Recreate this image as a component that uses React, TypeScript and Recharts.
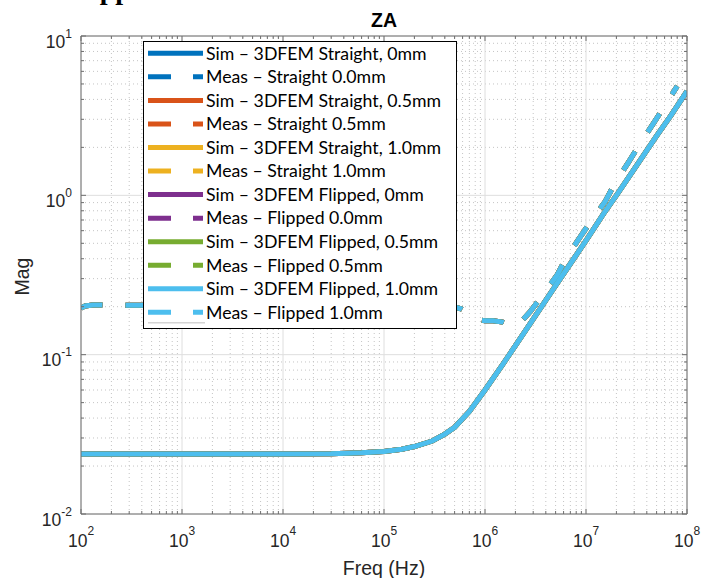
import React from 'react';
import { LineChart, Line, XAxis, YAxis, ReferenceLine, Legend } from 'recharts';

// ---- data ----
const freqSim = [1e2, 1e3, 1e4, 3e4, 6e4, 1e5, 1.5e5, 2e5, 3e5, 4e5, 5e5, 7e5, 1e6, 1.5e6, 2e6, 3e6, 5e6, 7e6, 1e7, 1.5e7, 2e7, 3e7, 5e7, 7e7, 1e8];
const magSim = [0.0238, 0.0238, 0.0238, 0.0239, 0.0242, 0.0247, 0.0255, 0.0265, 0.0287, 0.0317, 0.035, 0.044, 0.06, 0.087, 0.114, 0.167, 0.271, 0.372, 0.52, 0.77, 1.0, 1.46, 2.36, 3.2, 4.5];

const freqMeas = [1e2, 1.1e2, 1.3e2, 1.6e2, 2e2, 3e2, 5e2, 1e3, 1e4, 1e5, 3e5, 5e5, 5.9e5, 7e5, 8.3e5, 1e6, 1.2e6, 1.5e6, 1.8e6, 2.1e6, 2.8e6, 3.75e6, 5.2e6, 6.4e6, 8.7e6, 1.15e7, 1.55e7, 1.96e7, 2.63e7, 3.4e7, 4.6e7, 6e7, 8e7];
const magMeas = [0.196, 0.202, 0.205, 0.205, 0.204, 0.204, 0.204, 0.204, 0.204, 0.204, 0.203, 0.199, 0.193, 0.18, 0.167, 0.163, 0.163, 0.16, 0.153, 0.152, 0.186, 0.238, 0.318, 0.407, 0.544, 0.706, 0.916, 1.21, 1.61, 2.09, 2.8, 3.63, 4.85];

const seriesNames = [
  'Sim – 3DFEM Straight, 0mm',
  'Meas – Straight 0.0mm',
  'Sim – 3DFEM Straight, 0.5mm',
  'Meas – Straight 0.5mm',
  'Sim – 3DFEM Straight, 1.0mm',
  'Meas – Straight 1.0mm',
  'Sim – 3DFEM Flipped, 0mm',
  'Meas – Flipped 0.0mm',
  'Sim – 3DFEM Flipped, 0.5mm',
  'Meas – Flipped 0.5mm',
  'Sim – 3DFEM Flipped, 1.0mm',
  'Meas – Flipped 1.0mm',
];
const seriesKinds = ['sim', 'meas', 'sim', 'meas', 'sim', 'meas', 'sim', 'meas', 'sim', 'meas', 'sim', 'meas'];
const seriesColors = ['#0072BD', '#0072BD', '#D95319', '#D95319', '#EDB120', '#EDB120', '#7E2F8E', '#7E2F8E', '#77AC30', '#77AC30', '#4DBEEE', '#4DBEEE'];

const xMajorTicks = [1e2, 1e3, 1e4, 1e5, 1e6, 1e7, 1e8];
const yMajorTicks = [1e-2, 1e-1, 1e0, 1e1];
const minorMultipliers = [2, 3, 4, 5, 6, 7, 8, 9];

// ---- derived tables ----
const simData = freqSim.map((f, i) => ({ f, mag: magSim[i] }));
const measData = freqMeas.map((f, i) => ({ f, mag: magMeas[i] }));

function minorsOf(majors: number[]) {
  const out: number[] = [];
  for (let i = 0; i < majors.length - 1; i++) {
    for (const m of minorMultipliers) out.push(majors[i] * m);
  }
  return out;
}
const xMinorTicks = minorsOf(xMajorTicks);
const yMinorTicks = minorsOf(yMajorTicks);
const xAllTicks = [...xMajorTicks, ...xMinorTicks].sort((a, b) => a - b);
const yAllTicks = [...yMajorTicks, ...yMinorTicks].sort((a, b) => a - b);

const isMajor = (v: number, majors: number[]) => majors.some((m) => Math.abs(Math.log10(v) - Math.log10(m)) < 1e-6);
const expOf = (v: number) => Math.round(Math.log10(v));

const AXIS = '#6e6e6e';
const TXT = '#262626';
const FONT = '"Liberation Sans", Arial, sans-serif';
const MAJ = 5;
const MIN = 3;

const BottomTick = (p: any) => {
  const { x, y, payload } = p;
  const major = isMajor(payload.value, xMajorTicks);
  return (
    <g>
      <line x1={x} x2={x} y1={y} y2={y - (major ? MAJ : MIN)} stroke={AXIS} strokeWidth={1} />
      {major && (
        <text x={x} y={y + 33} textAnchor="middle" fontFamily={FONT} fontSize={17.5} fill={TXT}>
          10<tspan dy={-12} fontSize={12}>{String(expOf(payload.value))}</tspan>
        </text>
      )}
    </g>
  );
};
const TopTick = (p: any) => {
  const { x, y, payload } = p;
  const major = isMajor(payload.value, xMajorTicks);
  return <line x1={x} x2={x} y1={y} y2={y + (major ? MAJ : MIN)} stroke={AXIS} strokeWidth={1} />;
};
const LeftTick = (p: any) => {
  const { x, y, payload } = p;
  const major = isMajor(payload.value, yMajorTicks);
  return (
    <g>
      <line x1={x} x2={x + (major ? MAJ : MIN)} y1={y} y2={y} stroke={AXIS} strokeWidth={1} />
      {major && (
        <text x={x - 9} y={y + 11.5} textAnchor="end" fontFamily={FONT} fontSize={17.5} fill={TXT}>
          10<tspan dy={-10} fontSize={12}>{String(expOf(payload.value))}</tspan>
        </text>
      )}
    </g>
  );
};
const RightTick = (p: any) => {
  const { x, y, payload } = p;
  const major = isMajor(payload.value, yMajorTicks);
  return <line x1={x} x2={x - (major ? MAJ : MIN)} y1={y} y2={y} stroke={AXIS} strokeWidth={1} />;
};

const LegendBox = () => (
  <svg width={314} height={288} style={{ display: 'block' }}>
    <rect x={0.5} y={0.5} width={313} height={287} fill="#ffffff" stroke="#000000" strokeWidth={1} />
    {seriesNames.map((name, i) => {
      const cy = 12.3 + i * 23.55;
      return (
        <g key={name}>
          <line
            x1={5}
            x2={60}
            y1={cy}
            y2={cy}
            stroke={seriesColors[i]}
            strokeWidth={5}
            strokeDasharray={seriesKinds[i] === 'meas' ? '23 22' : undefined}
          />
          <text x={63} y={cy + 6.3} fontFamily="Lato, sans-serif" fontSize={17.7} fill="#000000">
            {name}
          </text>
        </g>
      );
    })}
    <line x1={5} x2={62} y1={281.7} y2={281.7} stroke="#d4d4d4" strokeWidth={1.5} />
  </svg>
);

const axisCommonX = {
  dataKey: 'f',
  type: 'number' as const,
  scale: 'log' as const,
  domain: [1e2, 1e8],
  allowDataOverflow: true,
  ticks: xAllTicks,
  interval: 0 as const,
  tickLine: false,
  tickSize: 0,
  tickMargin: 0,
  axisLine: { stroke: AXIS, strokeWidth: 1 },
};
const axisCommonY = {
  type: 'number' as const,
  scale: 'log' as const,
  domain: [1e-2, 1e1],
  allowDataOverflow: true,
  ticks: yAllTicks,
  interval: 0 as const,
  tickLine: false,
  tickSize: 0,
  tickMargin: 0,
  axisLine: { stroke: AXIS, strokeWidth: 1 },
};

export default function App() {
  return (
    <div style={{ position: 'absolute', left: 0, top: 0, width: 702, height: 578, background: '#ffffff' }}>
      <LineChart width={702} height={578} margin={{ top: 26, right: 5, bottom: 24, left: 11 }}>
        <XAxis xAxisId="bottom" {...axisCommonX} height={40} tick={(p: any) => <BottomTick {...p} />} />
        <XAxis xAxisId="top" orientation="top" {...axisCommonX} height={10} tick={(p: any) => <TopTick {...p} />} />
        <YAxis yAxisId="left" {...axisCommonY} width={70} tick={(p: any) => <LeftTick {...p} />} />
        <YAxis yAxisId="right" orientation="right" {...axisCommonY} width={10} tick={(p: any) => <RightTick {...p} />} />
        {xMinorTicks.map((v) => (
          <ReferenceLine key={'xm' + v} xAxisId="bottom" yAxisId="left" x={v} stroke="#c4c4c4" strokeDasharray="1 3" strokeWidth={1} zIndex={-100} />
        ))}
        {yMinorTicks.map((v) => (
          <ReferenceLine key={'ym' + v} xAxisId="bottom" yAxisId="left" y={v} stroke="#c4c4c4" strokeDasharray="1 3" strokeWidth={1} zIndex={-100} />
        ))}
        {xMajorTicks.map((v) => (
          <ReferenceLine key={'xM' + v} xAxisId="bottom" yAxisId="left" x={v} stroke="#dedede" strokeWidth={1} zIndex={-100} />
        ))}
        {yMajorTicks.map((v) => (
          <ReferenceLine key={'yM' + v} xAxisId="bottom" yAxisId="left" y={v} stroke="#dedede" strokeWidth={1} zIndex={-100} />
        ))}
        {seriesNames.map((name, i) => (
          <Line
            key={name}
            name={name}
            xAxisId="bottom"
            yAxisId="left"
            data={seriesKinds[i] === 'sim' ? simData : measData}
            dataKey="mag"
            type="linear"
            stroke={seriesColors[i]}
            strokeWidth={5}
            strokeDasharray={seriesKinds[i] === 'meas' ? '22 23' : undefined}
            dot={false}
            activeDot={false}
            isAnimationActive={false}
          />
        ))}
        <Legend
          layout="horizontal"
          verticalAlign="middle"
          align="center"
          wrapperStyle={{ position: 'absolute', left: 143, top: 41, width: 314, height: 288 }}
          content={() => <LegendBox />}
        />
      </LineChart>
      <svg
        width={702}
        height={578}
        style={{ position: 'absolute', left: 0, top: 0, pointerEvents: 'none' }}
      >
        <text x={67} y={-1} fontFamily='"Liberation Serif", serif' fontWeight="bold" fontSize={28} fill="#000">Flipped</text>
        <text x={384} y={27} textAnchor="middle" fontFamily={FONT} fontWeight="bold" fontSize={19.5} fill="#000">ZA</text>
        <text x={384} y={575} textAnchor="middle" fontFamily={FONT} fontSize={19.5} fill={TXT}>Freq (Hz)</text>
        <text x={29} y={276.5} textAnchor="middle" fontFamily={FONT} fontSize={19.5} fill={TXT} transform="rotate(-90, 29, 276.5)">Mag</text>
      </svg>
    </div>
  );
}
